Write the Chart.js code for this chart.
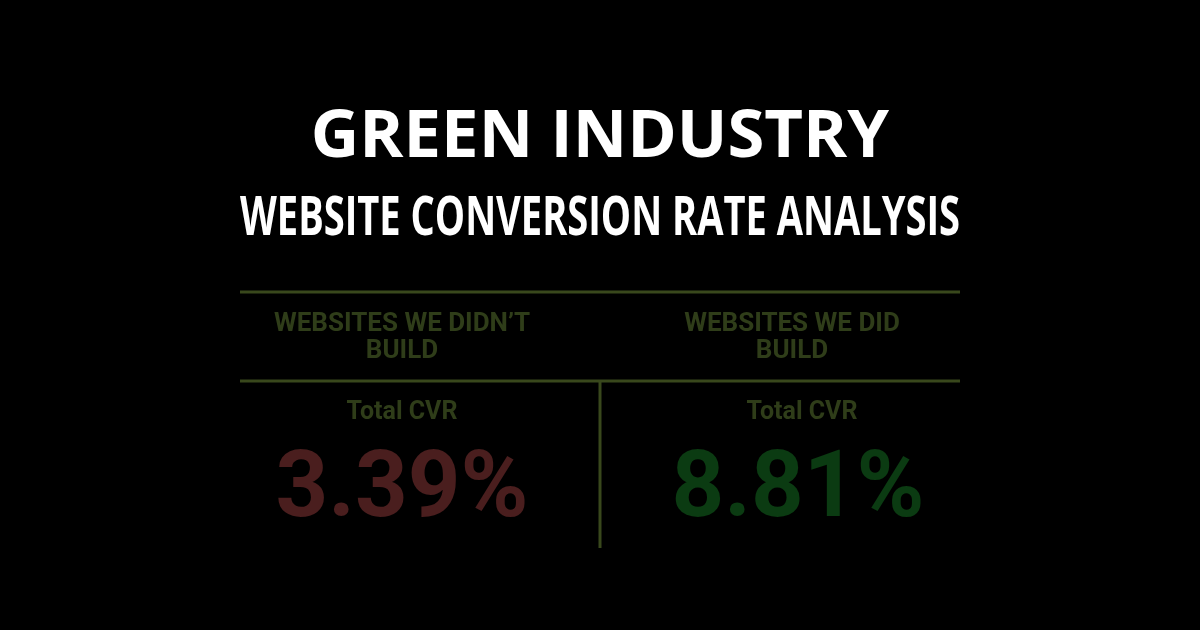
<!DOCTYPE html>
<html><head><meta charset="utf-8">
<script src="https://cdn.jsdelivr.net/npm/chart.js@4"></script>
<style>html,body{margin:0;background:#000;}#w{width:1200px;height:630px;}</style>
</head><body><div id="w"><canvas id="c" width="1200" height="630"></canvas></div>
<script>
const categories = [["WEBSITES WE DIDN\u2019T", "BUILD"], ["WEBSITES WE DID", "BUILD"]];
const cvrValues = [3.39, 8.81];
const metricLabel = "Total CVR";
const valueColors = ["#4a1e1e", "#0b3b12"];
const lineColor = "#39481c";
const headColor = "#2f3d19";

const tablePlugin = {
  id: 'table',
  afterDatasetsDraw(chart) {
    const ctx = chart.ctx, x = chart.scales.x;
    const L = 240, R = 960;
    ctx.save();
    ctx.strokeStyle = lineColor; ctx.lineWidth = 3;
    ctx.beginPath();
    ctx.moveTo(L, 292); ctx.lineTo(R, 292);
    ctx.moveTo(L, 381); ctx.lineTo(R, 381);
    ctx.moveTo(600, 381); ctx.lineTo(600, 548);
    ctx.stroke();
    ctx.textAlign = 'center'; ctx.textBaseline = 'middle';
    const shifts = [-18, 12];
    categories.forEach((c, i) => {
      const cx = x.getPixelForValue(i) + shifts[i];
      ctx.fillStyle = headColor;
      ctx.font = 'bold 26px Roboto';
      ctx.fillText(c[0], cx, 324);
      ctx.fillText(c[1], cx, 351);
      ctx.font = 'bold 25px Roboto';
      ctx.fillText(metricLabel, cx + (i ? 10 : 0), 413);
      ctx.fillStyle = valueColors[i];
      ctx.font = 'bold 92px Roboto';
      ctx.fillText(cvrValues[i].toFixed(2) + '%', cx + (i ? 6 : 0), 493);
    });
    ctx.restore();
  }
};

new Chart(document.getElementById('c'), {
  type: 'bar',
  data: { labels: categories.map(c => c.join(' ')), datasets: [{ data: cvrValues, backgroundColor: 'rgba(0,0,0,0)' }] },
  options: {
    responsive: false, animation: false,
    layout: { padding: { left: 240, right: 240, top: 0, bottom: 80 } },
    plugins: {
      legend: { display: false }, tooltip: { enabled: false },
      title: { display: true, text: 'GREEN INDUSTRY', color: '#fff', font: { family: 'Open Sans', size: 67, weight: 'bold' }, padding: { top: 98, bottom: 0 } },
      subtitle: { display: true, text: 'WEBSITE CONVERSION RATE ANALYSIS', color: '#fff', font: { family: 'Open Sans', size: 53, weight: 'bold' }, padding: { top: 10, bottom: 50 } }
    },
    scales: { x: { display: false }, y: { display: false, min: 0, max: 10 } }
  },
  plugins: [tablePlugin]
});
</script></body></html>
